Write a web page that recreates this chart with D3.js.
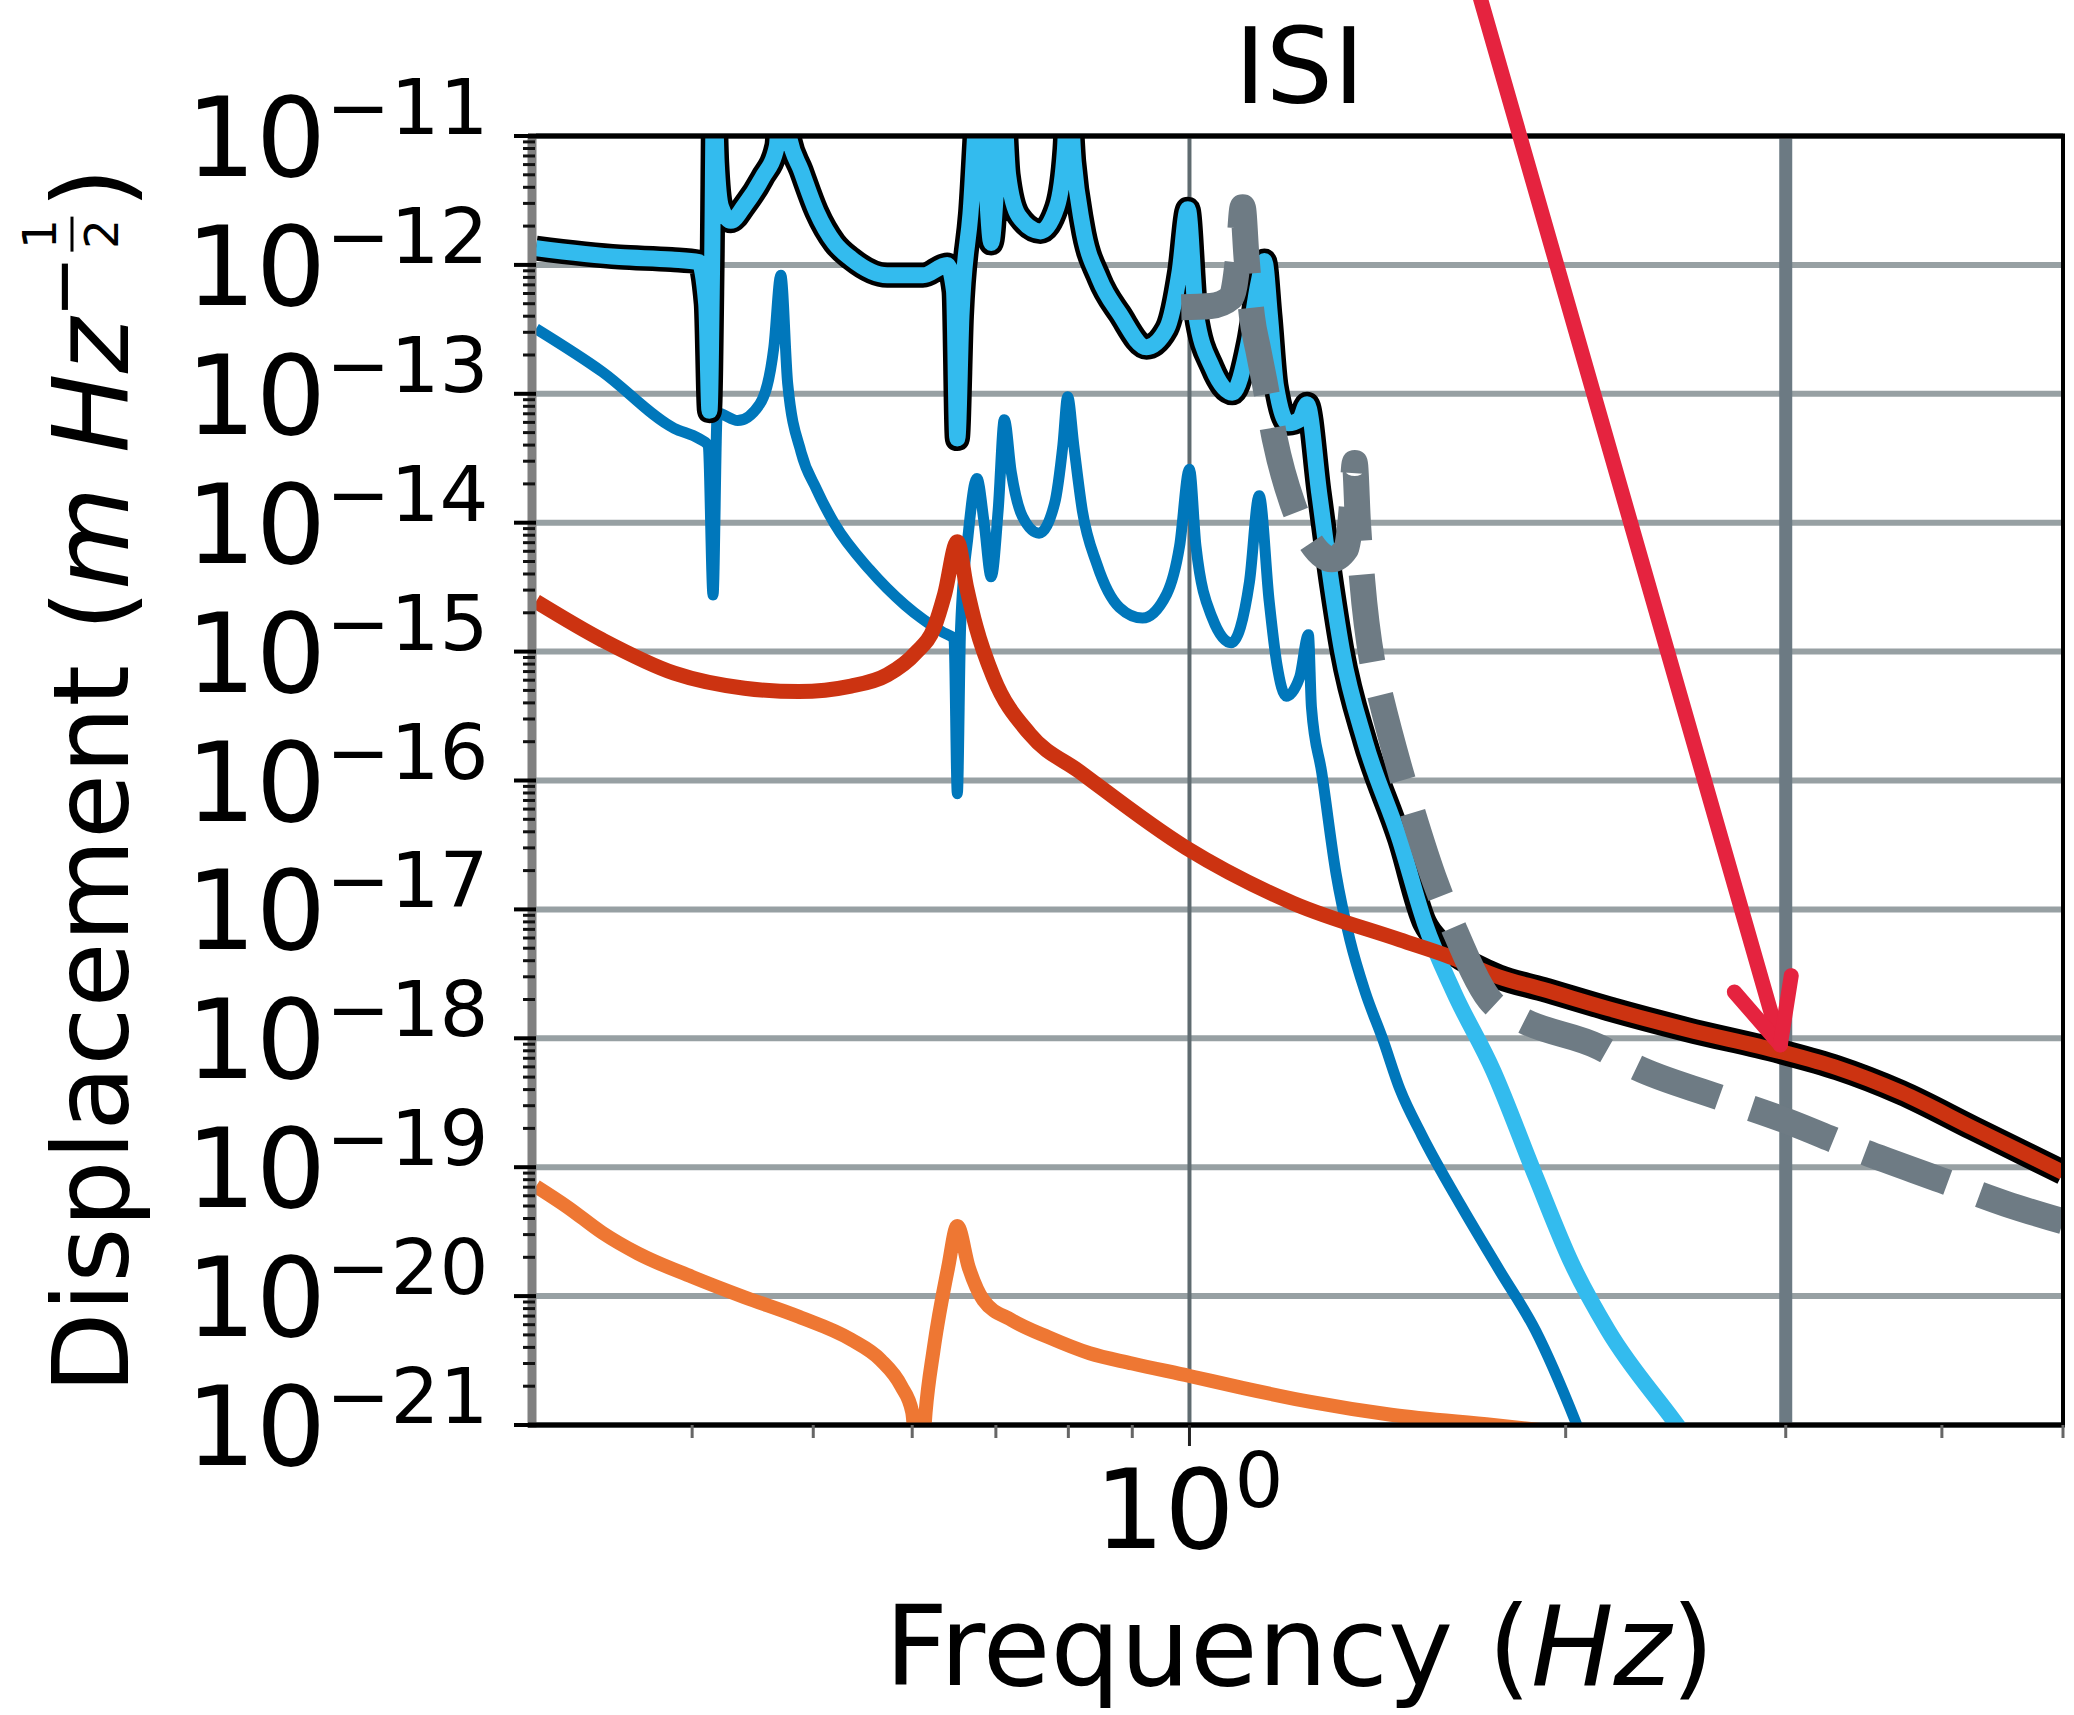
<!DOCTYPE html>
<html>
<head>
<meta charset="utf-8">
<script src="https://cdn.jsdelivr.net/npm/d3@7"></script>
<style>
  body { margin: 0; background: #fff; }
  svg { display: block; }
  text { font-family: "DejaVu Sans", sans-serif; fill: #000; }
</style>
</head>
<body>
<svg id="chart" width="2074" height="1715"></svg>
<script>
// axis ranges and ticks
const xDomain = [0.3, 5];
const yDomain = [1e-21, 1e-11];
const yTickExps = [-21, -20, -19, -18, -17, -16, -15, -14, -13, -12, -11];
const xMajorTicks = [1];
const xMinorTicks = [0.4, 0.5, 0.6, 0.7, 0.8, 0.9, 2, 3, 4, 5];
const markerFreq = 3;

// ISI (light blue), [Hz, m/sqrt(Hz)]
const isi = [[0.300,1.35e-12],[0.350,1.15e-12],[0.385,1.10e-12],[0.405,1.05e-12],[0.4105,5.0e-13],[0.4130,7.4e-14],
  [0.4150,1.0e-12],[0.4165,2.5e-11],[0.4185,6.3e-12],[0.422,2.8e-12],[0.4295,2.2e-12],[0.4406,2.9e-12],[0.455,4.7e-12],
  [0.4675,8.3e-12],[0.4712,2.5e-11],[0.478,1.0e-11],[0.489,5.4e-12],[0.503,2.6e-12],[0.520,1.48e-12],[0.536,1.12e-12],
  [0.573,8.3e-13],[0.612,8.3e-13],[0.640,1.0e-12],[0.648,6.3e-13],[0.652,4.5e-14],[0.657,4.0e-13],[0.668,2.5e-12],
  [0.6795,2.5e-11],[0.688,4.0e-12],[0.694,1.48e-12],[0.701,4.5e-12],[0.7085,2.5e-11],[0.716,5.0e-12],[0.730,2.4e-12],
  [0.760,1.82e-12],[0.783,2.8e-12],[0.795,7.9e-12],[0.800,2.5e-11],[0.808,6.3e-12],[0.821,2.04e-12],[0.847,7.8e-13],
  [0.879,4.2e-13],[0.924,2.3e-13],[0.959,3.2e-13],[0.982,8.9e-13],[0.997,2.7e-12],[1.012,4.2e-13],[1.043,1.6e-13],
  [1.082,1.02e-13],[1.115,2.5e-13],[1.135,7.1e-13],[1.148,1.07e-12],[1.160,4.0e-13],[1.173,1.15e-13],[1.200,5.9e-14],
  [1.225,6.3e-14],[1.242,8.3e-14],[1.270,1.7e-14],[1.300,3.2e-15],[1.325,1.0e-15],[1.382,2.0e-16],[1.473,3.5e-17],
  [1.543,7.8e-18],[1.627,2.3e-18],[1.750,5.6e-19],[1.892,8.5e-20],[2.022,1.8e-20],[2.163,5.4e-21],[2.443,1.07e-21],
  [2.52,7.1e-22]];

// total (black, drawn under the components)
const total = [[0.300,1.35e-12],[0.350,1.15e-12],[0.385,1.10e-12],[0.405,1.05e-12],[0.4105,5.0e-13],[0.4130,7.4e-14],
  [0.4150,1.0e-12],[0.4165,2.5e-11],[0.4185,6.3e-12],[0.422,2.8e-12],[0.4295,2.2e-12],[0.4406,2.9e-12],[0.455,4.7e-12],
  [0.4675,8.3e-12],[0.4712,2.5e-11],[0.478,1.0e-11],[0.489,5.4e-12],[0.503,2.6e-12],[0.520,1.48e-12],[0.536,1.12e-12],
  [0.573,8.3e-13],[0.612,8.3e-13],[0.640,1.0e-12],[0.648,6.3e-13],[0.652,4.5e-14],[0.657,4.0e-13],[0.668,2.5e-12],
  [0.6795,2.5e-11],[0.688,4.0e-12],[0.694,1.48e-12],[0.701,4.5e-12],[0.7085,2.5e-11],[0.716,5.0e-12],[0.730,2.4e-12],
  [0.760,1.82e-12],[0.783,2.8e-12],[0.795,7.9e-12],[0.800,2.5e-11],[0.808,6.3e-12],[0.821,2.04e-12],[0.847,7.8e-13],
  [0.879,4.2e-13],[0.924,2.3e-13],[0.959,3.2e-13],[0.982,8.9e-13],[0.997,2.7e-12],[1.012,4.2e-13],[1.043,1.6e-13],
  [1.082,1.02e-13],[1.115,2.5e-13],[1.135,7.1e-13],[1.148,1.07e-12],[1.160,4.0e-13],[1.173,1.15e-13],[1.200,5.9e-14],
  [1.225,6.3e-14],[1.242,8.3e-14],[1.270,1.7e-14],[1.300,3.2e-15],[1.325,1.0e-15],[1.382,2.0e-16],[1.473,3.5e-17],
  [1.543,7.8e-18],[1.583,5.6e-18],[1.620,4.7e-18],[1.768,3.0e-18],[1.917,2.4e-18],[2.163,1.7e-18],[2.5,1.17e-18],
  [2.968,7.9e-19],[3.3,5.9e-19],[3.71,3.8e-19],[4.24,2.0e-19],[5.0,9.1e-20]];

// dark blue component
const darkBlue = [[0.300,3.2e-13],[0.339,1.48e-13],[0.387,5.4e-14],[0.405,4.5e-14],[0.412,4.0e-14],[0.4157,2.75e-15],
  [0.419,7.1e-14],[0.435,6.2e-14],[0.453,8.3e-14],[0.465,2.3e-13],[0.471,8.3e-13],[0.477,1.2e-13],[0.489,3.5e-14],
  [0.503,1.82e-14],[0.520,9.8e-15],[0.555,4.3e-15],[0.592,2.3e-15],[0.612,1.78e-15],[0.635,1.41e-15],[0.648,1.26e-15],
  [0.652,7.9e-17],[0.656,1.58e-15],[0.665,7.9e-15],[0.676,2.2e-14],[0.685,1.0e-14],[0.694,3.8e-15],[0.703,1.26e-14],
  [0.711,6.3e-14],[0.720,2.5e-14],[0.735,1.12e-14],[0.758,8.3e-15],[0.780,1.41e-14],[0.792,4.0e-14],[0.799,9.5e-14],
  [0.808,4.0e-14],[0.821,1.23e-14],[0.843,4.8e-15],[0.879,2.2e-15],[0.917,1.82e-15],[0.959,2.8e-15],[0.982,6.6e-15],
  [1.000,2.6e-14],[1.012,6.6e-15],[1.043,1.82e-15],[1.080,1.17e-15],[1.117,3.5e-15],[1.137,1.62e-14],[1.158,2.5e-15],
  [1.175,7.9e-16],[1.195,4.5e-16],[1.225,6.3e-16],[1.245,1.35e-15],[1.252,3.7e-16],[1.276,1.15e-16],[1.310,1.9e-17],
  [1.344,5.8e-18],[1.382,2.3e-18],[1.428,9.8e-19],[1.474,4.0e-19],[1.534,1.78e-19],[1.650,5.0e-20],[1.768,1.62e-20],
  [1.892,5.4e-21],[2.036,1.07e-21],[2.080,6.3e-22]];

// red component
const red = [[0.300,2.45e-15],[0.339,1.23e-15],[0.387,6.8e-16],[0.4405,5.2e-16],[0.487,4.9e-16],[0.536,5.4e-16],
  [0.573,6.6e-16],[0.604,9.8e-16],[0.625,1.55e-15],[0.637,2.8e-15],[0.652,7.1e-15],[0.663,3.2e-15],[0.675,1.55e-15],
  [0.697,6.3e-16],[0.745,2.3e-16],[0.817,1.17e-16],[0.994,3.0e-17],[1.21,1.12e-17],[1.474,5.8e-18],[1.615,4.3e-18],
  [1.768,3.0e-18],[1.917,2.4e-18],[2.163,1.7e-18],[2.5,1.17e-18],[2.968,7.9e-19],[3.3,5.9e-19],[3.71,3.8e-19],
  [4.24,2.0e-19],[5.0,9.1e-20]];

// orange component
const orange = [[0.300,7.1e-20],[0.318,4.9e-20],[0.339,3.1e-20],[0.362,2.14e-20],[0.400,1.41e-20],[0.4405,9.8e-21],
  [0.487,6.9e-21],[0.536,4.6e-21],[0.566,3.2e-21],[0.588,2.0e-21],[0.600,1.26e-21],[0.608,2.5e-22],[0.615,1.26e-21],
  [0.624,3.8e-21],[0.641,1.66e-20],[0.652,3.5e-20],[0.666,1.66e-20],[0.684,9.3e-21],[0.721,6.5e-21],[0.771,4.8e-21],
  [0.832,3.6e-21],[0.9,3.0e-21],[1.0,2.4e-21],[1.1,1.95e-21],[1.25,1.51e-21],[1.45,1.2e-21],[1.75,1.0e-21],[2.2,7.9e-22]];

// grey dashed reference
const reference = [[0.985,4.7e-13],[1.04,4.8e-13],[1.08,5.6e-13],[1.095,1.26e-12],[1.103,2.8e-12],[1.111,1.12e-12],
  [1.122,4.0e-13],[1.135,2.2e-13],[1.148,1.26e-13],[1.170,4.5e-14],[1.209,1.41e-14],[1.250,7.1e-15],[1.300,5.2e-15],
  [1.335,6.3e-15],[1.348,1.26e-14],[1.356,2.9e-14],[1.364,1.0e-14],[1.375,3.5e-15],[1.400,8.5e-16],[1.418,5.0e-16],
  [1.474,1.2e-16],[1.504,6.2e-17],[1.574,1.6e-17],[1.627,7.2e-18],[1.738,2.0e-18],[1.840,1.41e-18],[2.130,8.5e-19],
  [2.250,6.3e-19],[2.650,3.5e-19],[3.000,2.3e-19],[3.400,1.41e-19],[4.000,7.9e-20],[4.500,5.2e-20],[5.000,3.8e-20]];

// annotation arrow: tail (off the top) and tip, in data units
const arrowTail = [1.70, 1.4e-10];
const arrowTip = [2.97, 8.9e-19];

const svg = d3.select("#chart");
const m = {left: 536, right: 2063, top: 136, bottom: 1425};
const x = d3.scaleLog().domain(xDomain).range([m.left, m.right]);
const y = d3.scaleLog().domain(yDomain).range([m.bottom, m.top]);

svg.append("defs").append("clipPath").attr("id", "plot-area")
  .append("rect")
  .attr("x", m.left).attr("y", m.top)
  .attr("width", m.right - m.left).attr("height", m.bottom - m.top);

const yMajor = yTickExps.map(e => Math.pow(10, e));
const yMinor = [];
yTickExps.slice(0, -1).forEach(e => {
  for (let k = 2; k <= 9; k++) yMinor.push(k * Math.pow(10, e));
});

// grid
const grid = svg.append("g");
grid.selectAll("line.h").data(yMajor).join("line")
  .attr("x1", m.left).attr("x2", m.right)
  .attr("y1", d => y(d)).attr("y2", d => y(d))
  .attr("stroke", "#97a0a3").attr("stroke-width", 6);
grid.selectAll("line.v").data(xMajorTicks).join("line")
  .attr("x1", d => x(d)).attr("x2", d => x(d))
  .attr("y1", m.top).attr("y2", m.bottom)
  .attr("stroke", "#5f6b70").attr("stroke-width", 4);

// 3 Hz marker
svg.append("line")
  .attr("x1", x(markerFreq)).attr("x2", x(markerFreq))
  .attr("y1", m.top).attr("y2", m.bottom)
  .attr("stroke", "#6c7a83").attr("stroke-width", 13);

// curves
const line = d3.line().x(d => x(d[0])).y(d => y(d[1])).curve(d3.curveMonotoneX);
const plot = svg.append("g").attr("clip-path", "url(#plot-area)");
const series = [
  {data: darkBlue, color: "#0077bb", width: 11},
  {data: total, color: "#000000", width: 25},
  {data: isi, color: "#33bbee", width: 16},
  {data: red, color: "#cc3311", width: 15},
  {data: orange, color: "#ee7733", width: 14},
  {data: reference, color: "#6e7b84", width: 26, dash: "88 34"}
];
series.forEach(s => {
  plot.append("path")
    .attr("d", line(s.data))
    .attr("fill", "none")
    .attr("stroke", s.color)
    .attr("stroke-width", s.width)
    .attr("stroke-linejoin", "round")
    .attr("stroke-dasharray", s.dash || null);
});

// spines
svg.append("line").attr("x1", m.left - 4).attr("x2", m.left - 4).attr("y1", m.top).attr("y2", m.bottom + 3)
  .attr("stroke", "#808080").attr("stroke-width", 9);
svg.append("line").attr("x1", m.left - 8).attr("x2", m.right + 2).attr("y1", m.top).attr("y2", m.top)
  .attr("stroke", "#000").attr("stroke-width", 5);
svg.append("line").attr("x1", m.left - 8).attr("x2", m.right + 2).attr("y1", m.bottom).attr("y2", m.bottom)
  .attr("stroke", "#000").attr("stroke-width", 5);
svg.append("line").attr("x1", m.right).attr("x2", m.right).attr("y1", m.top).attr("y2", m.bottom)
  .attr("stroke", "#000").attr("stroke-width", 4);

// y ticks
svg.append("g").selectAll("line").data(yMajor).join("line")
  .attr("x1", m.left - 22).attr("x2", m.left)
  .attr("y1", d => y(d)).attr("y2", d => y(d))
  .attr("stroke", "#000").attr("stroke-width", 4);
svg.append("g").selectAll("line").data(yMinor).join("line")
  .attr("x1", m.left - 13).attr("x2", m.left - 1)
  .attr("y1", d => y(d)).attr("y2", d => y(d))
  .attr("stroke", "#111").attr("stroke-width", 3);

// x ticks
svg.append("g").selectAll("line").data(xMajorTicks).join("line")
  .attr("x1", d => x(d)).attr("x2", d => x(d))
  .attr("y1", m.bottom).attr("y2", m.bottom + 21)
  .attr("stroke", "#222").attr("stroke-width", 3);
svg.append("g").selectAll("line").data(xMinorTicks).join("line")
  .attr("x1", d => x(d)).attr("x2", d => x(d))
  .attr("y1", m.bottom).attr("y2", m.bottom + 13)
  .attr("stroke", "#666").attr("stroke-width", 3);

// y tick labels 10^n
const fs = 110, sup = 77;
const yLab = svg.append("g");
yTickExps.forEach(e => {
  const yy = y(Math.pow(10, e));
  yLab.append("text").attr("x", 326).attr("y", yy + 40)
    .attr("text-anchor", "end").attr("font-size", fs).text("10");
  yLab.append("text").attr("x", 326).attr("y", yy - 2)
    .attr("font-size", sup).text("\u2212" + Math.abs(e));
});

// x tick label 10^0
xMajorTicks.forEach(t => {
  const cx = x(t) + 45;
  svg.append("text").attr("x", cx).attr("y", 1548)
    .attr("text-anchor", "end").attr("font-size", fs).text("10");
  svg.append("text").attr("x", cx).attr("y", 1507)
    .attr("font-size", sup).text(String(Math.round(Math.log10(t))));
});

// title
svg.append("text").attr("x", (m.left + m.right) / 2).attr("y", 103)
  .attr("text-anchor", "middle").attr("font-size", 106).text("ISI");

// x label
const xl = svg.append("text").attr("x", (m.left + m.right) / 2).attr("y", 1685)
  .attr("text-anchor", "middle").attr("font-size", fs);
xl.append("tspan").text("Frequency (");
xl.append("tspan").attr("font-style", "italic").text("Hz");
xl.append("tspan").text(")");

// y label, built piece by piece along the rotated baseline
const ylOuter = svg.append("g").attr("transform", `translate(128,${(m.top + m.bottom) / 2}) rotate(-90)`);
const yl = ylOuter.append("g");
let cur = 0;
function piece(txt, size, opts = {}) {
  const t = yl.append("text").attr("x", cur).attr("y", opts.y || 0)
    .attr("font-size", size).text(txt);
  if (opts.italic) t.attr("font-style", "italic");
  cur += t.node().getComputedTextLength();
  return t;
}
const ls = 106;
piece("Displacement (", ls);
piece("m", ls, {italic: true});
cur += 0.318 * ls;
piece("Hz", ls, {italic: true});
piece("\u2212", 74, {y: -40});
const fx0 = cur + 4, fw = 35;
yl.append("line").attr("x1", fx0).attr("x2", fx0 + fw).attr("y1", -56).attr("y2", -56)
  .attr("stroke", "#000").attr("stroke-width", 3);
yl.append("text").attr("x", fx0 + fw / 2).attr("y", -72).attr("text-anchor", "middle")
  .attr("font-size", 47).text("1");
yl.append("text").attr("x", fx0 + fw / 2).attr("y", -10).attr("text-anchor", "middle")
  .attr("font-size", 47).text("2");
cur = fx0 + fw + 8;
piece(")", ls);
yl.attr("transform", `translate(${-cur / 2},0)`);

// arrow
const tail = [x(arrowTail[0]), y(arrowTail[1])];
const tip = [x(arrowTip[0]), y(arrowTip[1])];
const ang = Math.atan2(tail[1] - tip[1], tail[0] - tip[0]);
const head = 70, spread = 25 * Math.PI / 180;
const arrow = svg.append("g").attr("stroke", "#e5233f").attr("stroke-width", 15)
  .attr("stroke-linecap", "round").attr("fill", "none");
arrow.append("line").attr("x1", tail[0]).attr("y1", tail[1]).attr("x2", tip[0]).attr("y2", tip[1]);
[-spread, spread].forEach(s => {
  arrow.append("line").attr("x1", tip[0]).attr("y1", tip[1])
    .attr("x2", tip[0] + head * Math.cos(ang + s))
    .attr("y2", tip[1] + head * Math.sin(ang + s));
});
</script>
</body>
</html>
